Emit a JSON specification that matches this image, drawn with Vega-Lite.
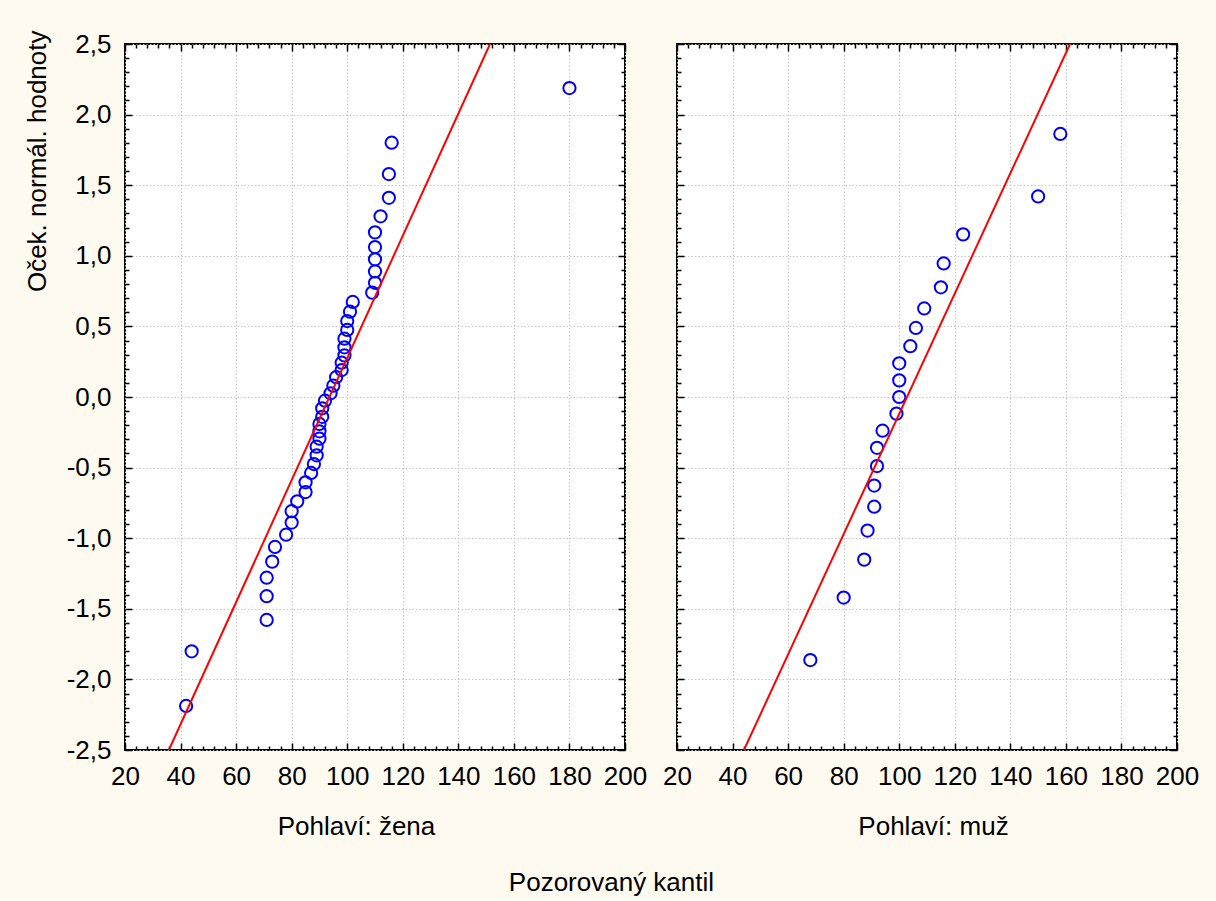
{
  "$schema": "https://vega.github.io/schema/vega-lite/v6.json",
  "background": "#fffaf0",
  "padding": {"left": 23, "top": 28, "right": 16, "bottom": 3},
  "bounds": "flush",
  "spacing": 52,
  "config": {
    "font": "Liberation Sans",
    "view": {"stroke": "black", "strokeWidth": 2, "fill": "white"},
    "axis": {
      "labelFont": "Liberation Sans", "labelFontSize": 26, "labelColor": "black",
      "titleFont": "Liberation Sans", "titleFontSize": 26, "titleFontWeight": "normal", "titleColor": "black",
      "domain": false, "tickColor": "black", "tickWidth": 1.5,
      "gridColor": "#c4c4c4", "gridDash": [1.5, 2], "gridWidth": 1
    }
  },
  "title": {"text": "Pozorovaný kantil", "orient": "bottom", "anchor": "middle", "fontSize": 26, "fontWeight": "normal", "font": "Liberation Sans", "color": "black", "offset": 30},
  "datasets": {
    "zena": [
      {"kvantil": 180, "skore": 2.188}, {"kvantil": 116, "skore": 1.801}, {"kvantil": 115, "skore": 1.579},
      {"kvantil": 115, "skore": 1.411}, {"kvantil": 112, "skore": 1.280}, {"kvantil": 110, "skore": 1.166},
      {"kvantil": 110, "skore": 1.062}, {"kvantil": 110, "skore": 0.975}, {"kvantil": 110, "skore": 0.889},
      {"kvantil": 110, "skore": 0.809}, {"kvantil": 109, "skore": 0.739}, {"kvantil": 102, "skore": 0.673},
      {"kvantil": 101, "skore": 0.604}, {"kvantil": 100, "skore": 0.538}, {"kvantil": 100, "skore": 0.475},
      {"kvantil": 99, "skore": 0.413}, {"kvantil": 99, "skore": 0.352}, {"kvantil": 99, "skore": 0.295},
      {"kvantil": 98, "skore": 0.243}, {"kvantil": 98, "skore": 0.191}, {"kvantil": 96, "skore": 0.140},
      {"kvantil": 95, "skore": 0.080}, {"kvantil": 94, "skore": 0.026}, {"kvantil": 92, "skore": -0.026},
      {"kvantil": 91, "skore": -0.080}, {"kvantil": 91, "skore": -0.140}, {"kvantil": 90, "skore": -0.191},
      {"kvantil": 90, "skore": -0.243}, {"kvantil": 90, "skore": -0.295}, {"kvantil": 89, "skore": -0.352},
      {"kvantil": 89, "skore": -0.413}, {"kvantil": 88, "skore": -0.475}, {"kvantil": 87, "skore": -0.538},
      {"kvantil": 85, "skore": -0.604}, {"kvantil": 85, "skore": -0.673}, {"kvantil": 82, "skore": -0.739},
      {"kvantil": 80, "skore": -0.809}, {"kvantil": 80, "skore": -0.889}, {"kvantil": 78, "skore": -0.975},
      {"kvantil": 74, "skore": -1.062}, {"kvantil": 73, "skore": -1.166}, {"kvantil": 71, "skore": -1.280},
      {"kvantil": 71, "skore": -1.411}, {"kvantil": 71, "skore": -1.579}, {"kvantil": 44, "skore": -1.801},
      {"kvantil": 42, "skore": -2.188}
    ],
    "muz": [
      {"kvantil": 158, "skore": 1.863}, {"kvantil": 150, "skore": 1.420}, {"kvantil": 123, "skore": 1.152},
      {"kvantil": 116, "skore": 0.946}, {"kvantil": 115, "skore": 0.777}, {"kvantil": 109, "skore": 0.627},
      {"kvantil": 106, "skore": 0.489}, {"kvantil": 104, "skore": 0.360}, {"kvantil": 100, "skore": 0.239},
      {"kvantil": 100, "skore": 0.118}, {"kvantil": 100, "skore": 0.0}, {"kvantil": 99, "skore": -0.118},
      {"kvantil": 94, "skore": -0.239}, {"kvantil": 92, "skore": -0.360}, {"kvantil": 92, "skore": -0.489},
      {"kvantil": 91, "skore": -0.627}, {"kvantil": 91, "skore": -0.777}, {"kvantil": 88.6, "skore": -0.946},
      {"kvantil": 87.4, "skore": -1.152}, {"kvantil": 80, "skore": -1.420}, {"kvantil": 68, "skore": -1.863}
    ],
    "liniezena": [{"kvantil": 35.8, "skore": -2.5}, {"kvantil": 151.4, "skore": 2.5}],
    "liniemuz": [{"kvantil": 44.1, "skore": -2.5}, {"kvantil": 161.5, "skore": 2.5}]
  },
  "hconcat": [
    {
      "width": 500, "height": 706,
      "resolve": {"axis": {"x": "independent", "y": "independent"}},
      "layer": [
        {
          "data": {"name": "zena"},
          "mark": {"type": "point", "shape": "circle", "filled": false, "color": "#0000ff", "size": 150, "strokeWidth": 2, "opacity": 1},
          "encoding": {
            "x": {"field": "kvantil", "type": "quantitative", "scale": {"domain": [20, 200], "nice": false, "zero": false},
              "axis": {"orient": "bottom", "title": "Pohlaví: žena", "titleX": 231, "values": [20, 40, 60, 80, 100, 120, 140, 160, 180, 200], "ticks": false, "grid": true, "labelPadding": 13, "titlePadding": 24, "labelFlush": false, "format": "d"}},
            "y": {"field": "skore", "type": "quantitative", "scale": {"domain": [-2.5, 2.5], "nice": false, "zero": false},
              "axis": {"orient": "left", "title": "Oček. normál. hodnoty", "values": [-2.5, -2, -1.5, -1, -0.5, 0, 0.5, 1, 1.5, 2, 2.5], "ticks": false, "grid": true, "labelPadding": 14, "titlePadding": 16, "titleAnchor": "end", "titleY": -14, "labelFlush": false,
                "labelExpr": "(datum.value < 0 ? '-' : '') + replace(format(abs(datum.value), '.1f'), '.', ',')"}}
          }
        },
        {
          "data": {"name": "liniezena"},
          "mark": {"type": "line", "color": "#ff0000", "strokeWidth": 2, "clip": true},
          "encoding": {
            "x": {"field": "kvantil", "type": "quantitative", "scale": {"domain": [20, 200], "nice": false, "zero": false},
              "axis": {"orient": "bottom", "title": null, "values": [20, 40, 60, 80, 100, 120, 140, 160, 180, 200], "labels": false, "grid": false, "tickSize": -7}},
            "y": {"field": "skore", "type": "quantitative", "scale": {"domain": [-2.5, 2.5], "nice": false, "zero": false},
              "axis": {"orient": "left", "title": null, "values": [-2.5, -2, -1.5, -1, -0.5, 0, 0.5, 1, 1.5, 2, 2.5], "labels": false, "grid": false, "tickSize": -7}}
          }
        },
        {
          "data": {"name": "liniezena"},
          "mark": {"type": "line", "opacity": 0},
          "encoding": {
            "x": {"field": "kvantil", "type": "quantitative", "scale": {"domain": [20, 200], "nice": false, "zero": false},
              "axis": {"orient": "bottom", "title": null, "values": [24, 28, 32, 36, 44, 48, 52, 56, 64, 68, 72, 76, 84, 88, 92, 96, 104, 108, 112, 116, 124, 128, 132, 136, 144, 148, 152, 156, 164, 168, 172, 176, 184, 188, 192, 196], "labels": false, "grid": false, "tickSize": -4}},
            "y": {"field": "skore", "type": "quantitative", "scale": {"domain": [-2.5, 2.5], "nice": false, "zero": false},
              "axis": {"orient": "left", "title": null, "values": [-2.4, -2.3, -2.2, -2.1, -1.9, -1.8, -1.7, -1.6, -1.4, -1.3, -1.2, -1.1, -0.9, -0.8, -0.7, -0.6, -0.4, -0.3, -0.2, -0.1, 0.1, 0.2, 0.3, 0.4, 0.6, 0.7, 0.8, 0.9, 1.1, 1.2, 1.3, 1.4, 1.6, 1.7, 1.8, 1.9, 2.1, 2.2, 2.3, 2.4], "labels": false, "grid": false, "tickSize": -4}}
          }
        },
        {
          "data": {"name": "liniezena"},
          "mark": {"type": "line", "opacity": 0},
          "encoding": {
            "x": {"field": "kvantil", "type": "quantitative", "scale": {"domain": [20, 200], "nice": false, "zero": false},
              "axis": {"orient": "top", "title": null, "values": [20, 40, 60, 80, 100, 120, 140, 160, 180, 200], "labels": false, "grid": false, "tickSize": -7}},
            "y": {"field": "skore", "type": "quantitative", "scale": {"domain": [-2.5, 2.5], "nice": false, "zero": false},
              "axis": {"orient": "right", "title": null, "values": [-2.5, -2, -1.5, -1, -0.5, 0, 0.5, 1, 1.5, 2, 2.5], "labels": false, "grid": false, "tickSize": -7}}
          }
        },
        {
          "data": {"name": "liniezena"},
          "mark": {"type": "line", "opacity": 0},
          "encoding": {
            "x": {"field": "kvantil", "type": "quantitative", "scale": {"domain": [20, 200], "nice": false, "zero": false},
              "axis": {"orient": "top", "title": null, "values": [24, 28, 32, 36, 44, 48, 52, 56, 64, 68, 72, 76, 84, 88, 92, 96, 104, 108, 112, 116, 124, 128, 132, 136, 144, 148, 152, 156, 164, 168, 172, 176, 184, 188, 192, 196], "labels": false, "grid": false, "tickSize": -4}},
            "y": {"field": "skore", "type": "quantitative", "scale": {"domain": [-2.5, 2.5], "nice": false, "zero": false},
              "axis": {"orient": "right", "title": null, "values": [-2.4, -2.3, -2.2, -2.1, -1.9, -1.8, -1.7, -1.6, -1.4, -1.3, -1.2, -1.1, -0.9, -0.8, -0.7, -0.6, -0.4, -0.3, -0.2, -0.1, 0.1, 0.2, 0.3, 0.4, 0.6, 0.7, 0.8, 0.9, 1.1, 1.2, 1.3, 1.4, 1.6, 1.7, 1.8, 1.9, 2.1, 2.2, 2.3, 2.4], "labels": false, "grid": false, "tickSize": -4}}
          }
        }
      ]
    },
    {
      "width": 500, "height": 706,
      "resolve": {"axis": {"x": "independent", "y": "independent"}},
      "layer": [
        {
          "data": {"name": "muz"},
          "mark": {"type": "point", "shape": "circle", "filled": false, "color": "#0000ff", "size": 150, "strokeWidth": 2, "opacity": 1},
          "encoding": {
            "x": {"field": "kvantil", "type": "quantitative", "scale": {"domain": [20, 200], "nice": false, "zero": false},
              "axis": {"orient": "bottom", "title": "Pohlaví: muž", "titleX": 256, "values": [20, 40, 60, 80, 100, 120, 140, 160, 180, 200], "ticks": false, "grid": true, "labelPadding": 13, "titlePadding": 24, "labelFlush": false, "format": "d"}},
            "y": {"field": "skore", "type": "quantitative", "scale": {"domain": [-2.5, 2.5], "nice": false, "zero": false},
              "axis": {"orient": "left", "title": null, "values": [-2.5, -2, -1.5, -1, -0.5, 0, 0.5, 1, 1.5, 2, 2.5], "ticks": false, "labels": false, "grid": true}}
          }
        },
        {
          "data": {"name": "liniemuz"},
          "mark": {"type": "line", "color": "#ff0000", "strokeWidth": 2, "clip": true},
          "encoding": {
            "x": {"field": "kvantil", "type": "quantitative", "scale": {"domain": [20, 200], "nice": false, "zero": false},
              "axis": {"orient": "bottom", "title": null, "values": [20, 40, 60, 80, 100, 120, 140, 160, 180, 200], "labels": false, "grid": false, "tickSize": -7}},
            "y": {"field": "skore", "type": "quantitative", "scale": {"domain": [-2.5, 2.5], "nice": false, "zero": false},
              "axis": {"orient": "left", "title": null, "values": [-2.5, -2, -1.5, -1, -0.5, 0, 0.5, 1, 1.5, 2, 2.5], "labels": false, "grid": false, "tickSize": -7}}
          }
        },
        {
          "data": {"name": "liniemuz"},
          "mark": {"type": "line", "opacity": 0},
          "encoding": {
            "x": {"field": "kvantil", "type": "quantitative", "scale": {"domain": [20, 200], "nice": false, "zero": false},
              "axis": {"orient": "bottom", "title": null, "values": [24, 28, 32, 36, 44, 48, 52, 56, 64, 68, 72, 76, 84, 88, 92, 96, 104, 108, 112, 116, 124, 128, 132, 136, 144, 148, 152, 156, 164, 168, 172, 176, 184, 188, 192, 196], "labels": false, "grid": false, "tickSize": -4}},
            "y": {"field": "skore", "type": "quantitative", "scale": {"domain": [-2.5, 2.5], "nice": false, "zero": false},
              "axis": {"orient": "left", "title": null, "values": [-2.4, -2.3, -2.2, -2.1, -1.9, -1.8, -1.7, -1.6, -1.4, -1.3, -1.2, -1.1, -0.9, -0.8, -0.7, -0.6, -0.4, -0.3, -0.2, -0.1, 0.1, 0.2, 0.3, 0.4, 0.6, 0.7, 0.8, 0.9, 1.1, 1.2, 1.3, 1.4, 1.6, 1.7, 1.8, 1.9, 2.1, 2.2, 2.3, 2.4], "labels": false, "grid": false, "tickSize": -4}}
          }
        },
        {
          "data": {"name": "liniemuz"},
          "mark": {"type": "line", "opacity": 0},
          "encoding": {
            "x": {"field": "kvantil", "type": "quantitative", "scale": {"domain": [20, 200], "nice": false, "zero": false},
              "axis": {"orient": "top", "title": null, "values": [20, 40, 60, 80, 100, 120, 140, 160, 180, 200], "labels": false, "grid": false, "tickSize": -7}},
            "y": {"field": "skore", "type": "quantitative", "scale": {"domain": [-2.5, 2.5], "nice": false, "zero": false},
              "axis": {"orient": "right", "title": null, "values": [-2.5, -2, -1.5, -1, -0.5, 0, 0.5, 1, 1.5, 2, 2.5], "labels": false, "grid": false, "tickSize": -7}}
          }
        },
        {
          "data": {"name": "liniemuz"},
          "mark": {"type": "line", "opacity": 0},
          "encoding": {
            "x": {"field": "kvantil", "type": "quantitative", "scale": {"domain": [20, 200], "nice": false, "zero": false},
              "axis": {"orient": "top", "title": null, "values": [24, 28, 32, 36, 44, 48, 52, 56, 64, 68, 72, 76, 84, 88, 92, 96, 104, 108, 112, 116, 124, 128, 132, 136, 144, 148, 152, 156, 164, 168, 172, 176, 184, 188, 192, 196], "labels": false, "grid": false, "tickSize": -4}},
            "y": {"field": "skore", "type": "quantitative", "scale": {"domain": [-2.5, 2.5], "nice": false, "zero": false},
              "axis": {"orient": "right", "title": null, "values": [-2.4, -2.3, -2.2, -2.1, -1.9, -1.8, -1.7, -1.6, -1.4, -1.3, -1.2, -1.1, -0.9, -0.8, -0.7, -0.6, -0.4, -0.3, -0.2, -0.1, 0.1, 0.2, 0.3, 0.4, 0.6, 0.7, 0.8, 0.9, 1.1, 1.2, 1.3, 1.4, 1.6, 1.7, 1.8, 1.9, 2.1, 2.2, 2.3, 2.4], "labels": false, "grid": false, "tickSize": -4}}
          }
        }
      ]
    }
  ]
}
